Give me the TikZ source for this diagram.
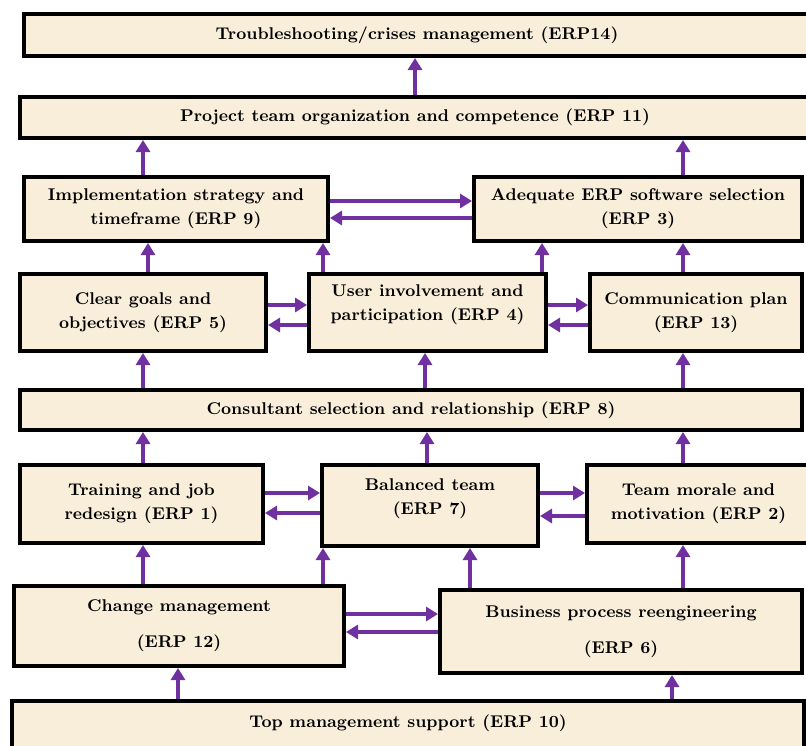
\documentclass[tikz,border=0pt]{standalone}
\usetikzlibrary{arrows.meta}
\definecolor{beige}{HTML}{F8EEDA}
\definecolor{morado}{HTML}{7030A0}
\tikzset{
  caja/.style={draw=black, line width=2pt, fill=beige, align=center, inner sep=2pt,
    font=\fontsize{8.5}{12}\selectfont\bfseries},
  flecha/.style={morado, line width=1.9pt, -{Triangle[length=6pt,width=7pt]}}
}
\begin{document}
\begin{tikzpicture}[x=0.5pt, y=-0.5pt]
        \useasboundingbox (0,0) rectangle (806,745);
        % Cajas (ERP)
        \node[caja, minimum width=393pt, minimum height=21pt] (erp14) at (417,35) {Troubleshooting/crises management (ERP14)};
        \node[caja, minimum width=395pt, minimum height=20.5pt] (erp11) at (415,117.5) {Project team organization and competence (ERP 11)};
        \node[caja, minimum width=152pt, minimum height=32pt] (erp9) at (176,209) {Implementation strategy and\\timeframe (ERP 9)};
        \node[caja, minimum width=164pt, minimum height=32pt] (erp3) at (638,209) {Adequate ERP software selection\\(ERP 3)};
        \node[caja, minimum width=123pt, minimum height=38.5pt] (erp5) at (143,312.5) {Clear goals and\\objectives (ERP 5)};
        \node[caja, minimum width=118.5pt, minimum height=38.5pt] (erp4) at (427.5,312.5) {User involvement and\\participation (ERP 4)\\[-2pt]};
        \node[caja, minimum width=106pt, minimum height=38.5pt] (erp13) at (696,312.5) {Communication plan\\(ERP 13)};
        \node[caja, minimum width=391pt, minimum height=20pt] (erp8) at (411,410) {Consultant selection and relationship (ERP 8)};
        \node[caja, minimum width=121.5pt, minimum height=39pt] (erp1) at (141.5,504) {Training and job\\redesign (ERP 1)};
        \node[caja, minimum width=108pt, minimum height=40.5pt] (erp7) at (430,505.5) {Balanced team\\(ERP 7)\\[-3.5pt]};
        \node[caja, minimum width=111.5pt, minimum height=39pt] (erp2) at (698.5,504) {Team morale and\\motivation (ERP 2)};
        \node[caja, minimum width=165pt, minimum height=40pt] (erp12) at (179,626) {Change management\\[6pt](ERP 12)};
        \node[caja, minimum width=181pt, minimum height=41.5pt] (erp6) at (621,631.5) {Business process reengineering\\[6pt](ERP 6)};
        \node[caja, minimum width=396pt, minimum height=24pt] (erp10) at (408,725) {\raisebox{3.5pt}{Top management support (ERP 10)}};
        % Flechas verticales
        \draw[flecha] (erp11.north -| 415,0) -- (erp14.south -| 415,0);
        \draw[flecha] (erp9.north -| 143,0) -- (erp11.south -| 143,0);
        \draw[flecha] (erp3.north -| 683,0) -- (erp11.south -| 683,0);
        \draw[flecha] (erp5.north -| 148,0) -- (erp9.south -| 148,0);
        \draw[flecha] (erp4.north -| 323,0) -- (erp9.south -| 323,0);
        \draw[flecha] (erp4.north -| 542,0) -- (erp3.south -| 542,0);
        \draw[flecha] (erp13.north -| 683,0) -- (erp3.south -| 683,0);
        \draw[flecha] (erp8.north -| 143,0) -- (erp5.south -| 143,0);
        \draw[flecha] (erp8.north -| 425,0) -- (erp4.south -| 425,0);
        \draw[flecha] (erp8.north -| 683,0) -- (erp13.south -| 683,0);
        \draw[flecha] (erp1.north -| 143,0) -- (erp8.south -| 143,0);
        \draw[flecha] (erp7.north -| 427,0) -- (erp8.south -| 427,0);
        \draw[flecha] (erp2.north -| 683,0) -- (erp8.south -| 683,0);
        \draw[flecha] (erp12.north -| 143,0) -- (erp1.south -| 143,0);
        \draw[flecha] (erp12.north -| 323,0) -- (erp7.south -| 323,0);
        \draw[flecha] (erp6.north -| 470,0) -- (erp7.south -| 470,0);
        \draw[flecha] (erp6.north -| 683,0) -- (erp2.south -| 683,0);
        \draw[flecha] (erp10.north -| 178,0) -- (erp12.south -| 178,0);
        \draw[flecha] (erp10.north -| 672,0) -- (erp6.south -| 672,0);
        % Flechas horizontales (ida y vuelta)
        \draw[flecha] (erp9.east |- 0,201) -- (erp3.west |- 0,201);
        \draw[flecha] (erp3.west |- 0,218) -- (erp9.east |- 0,218);
        \draw[flecha] (erp5.east |- 0,305) -- (erp4.west |- 0,305);
        \draw[flecha] (erp4.west |- 0,325) -- (erp5.east |- 0,325);
        \draw[flecha] (erp4.east |- 0,305) -- (erp13.west |- 0,305);
        \draw[flecha] (erp13.west |- 0,325) -- (erp4.east |- 0,325);
        \draw[flecha] (erp1.east |- 0,493) -- (erp7.west |- 0,493);
        \draw[flecha] (erp7.west |- 0,513) -- (erp1.east |- 0,513);
        \draw[flecha] (erp7.east |- 0,493) -- (erp2.west |- 0,493);
        \draw[flecha] (erp2.west |- 0,516) -- (erp7.east |- 0,516);
        \draw[flecha] (erp12.east |- 0,614) -- (erp6.west |- 0,614);
        \draw[flecha] (erp6.west |- 0,632) -- (erp12.east |- 0,632);
\end{tikzpicture}
\end{document}
